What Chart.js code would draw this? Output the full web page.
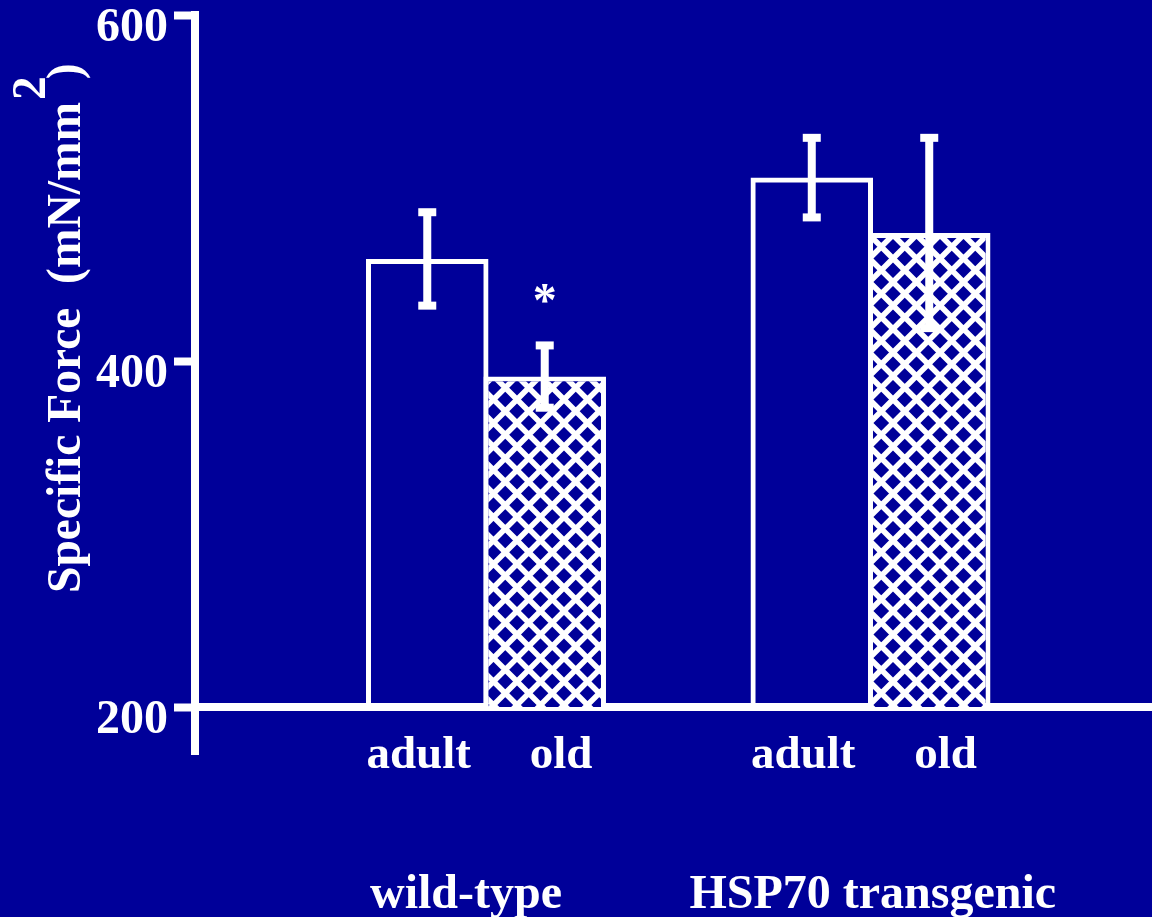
<!DOCTYPE html>
<html><head><meta charset="utf-8">
<script src="https://cdn.jsdelivr.net/npm/chart.js@4"></script>
<style>html,body{margin:0;padding:0;background:#000099;} #wrap{width:1152px;height:917px;position:relative;}</style>
</head><body><div id="wrap"><canvas id="c"></canvas></div>
<script>
// ---- data ----
const groups = ['wild-type', 'HSP70 transgenic'];
const groupPos = [1, 2];
const ages = ['adult', 'old'];
const adultMean = [459, 506];
const adultErr = [27, 23];
const oldMean = [391, 474];
const oldErr = [18, 55];
const oldMarks = ['*', ''];
const yTicks = [200, 400, 600];
const yTitle = 'Specific Force  (mN/mm';
const yTitleSup = '2';
const yTitleEnd = ')';

// ---- styling ----
const BG = '#000099';
const FG = '#ffffff';
const FONT = '"Liberation Serif", "Times New Roman", Times, serif';
const X_MIN = 0.2432, X_MAX = 2.7321;
const SUB_OFFSETS = [-0.175, 0.195];
const GROUP_LABEL_OFFSETS = [-0.052, 0.006];
const subTickValues = groupPos.flatMap(g => SUB_OFFSETS.map(o => g + o));
const subLabels = groupPos.flatMap(() => ages);
const groupTickValues = groupPos.map((g, i) => g + GROUP_LABEL_OFFSETS[i]);

function makePattern() {
  const T = 47, S = 23.5;
  const c = document.createElement('canvas');
  c.width = T; c.height = T;
  const g = c.getContext('2d');
  g.fillStyle = BG; g.fillRect(0, 0, T, T);
  g.strokeStyle = FG; g.lineWidth = 5.5;
  g.beginPath();
  for (let k = -3; k <= 3; k++) {
    g.moveTo(-10, -10 + k * S); g.lineTo(T + 10, T + 10 + k * S);
  }
  for (let m = -1; m <= 5; m++) {
    g.moveTo(-10, m * S + 10); g.lineTo(T + 10, m * S - T - 10);
  }
  g.stroke();
  return g.createPattern(c, 'repeat');
}

const bgPlugin = {
  id: 'bg',
  beforeDraw(chart) {
    const ctx = chart.ctx;
    ctx.save(); ctx.fillStyle = BG; ctx.fillRect(0, 0, chart.width, chart.height); ctx.restore();
  }
};

const errPlugin = {
  id: 'err',
  afterDatasetsDraw(chart) {
    const ctx = chart.ctx, y = chart.scales.y;
    ctx.save();
    ctx.fillStyle = FG;
    chart.data.datasets.forEach((ds, di) => {
      const meta = chart.getDatasetMeta(di);
      meta.data.forEach((bar, i) => {
        const m = ds.data[i].y, e = ds.errors[i];
        const cx = bar.x;
        const top = y.getPixelForValue(m + e), bot = y.getPixelForValue(m - e);
        ctx.fillRect(cx - 4, top, 8, bot - top);
        ctx.fillRect(cx - 9, top - 4, 18, 8);
        ctx.fillRect(cx - 9, bot - 4, 18, 8);
        if (ds.marks && ds.marks[i]) {
          ctx.font = 'bold 48px ' + FONT;
          ctx.textAlign = 'center'; ctx.textBaseline = 'alphabetic';
          ctx.fillText(ds.marks[i], cx, top - 29);
        }
      });
    });
    ctx.restore();
  }
};

const axisPlugin = {
  id: 'axisExt',
  afterDraw(chart) {
    const ctx = chart.ctx, a = chart.chartArea;
    ctx.save();
    ctx.fillStyle = FG;
    ctx.fillRect(a.left - 4, a.top - 4, 8, a.bottom - a.top + 52);
    // y-axis title with superscript
    ctx.translate(80, 593);
    ctx.rotate(-Math.PI / 2);
    ctx.font = 'bold 47.5px ' + FONT;
    ctx.textAlign = 'left'; ctx.textBaseline = 'alphabetic';
    ctx.fillText(yTitle, 0, 0);
    const w = ctx.measureText(yTitle).width;
    ctx.fillText(yTitleSup, w + 2, -35);
    const w2 = ctx.measureText(yTitleSup).width;
    ctx.fillText(yTitleEnd, w + w2 - 1, 0);
    ctx.restore();
  }
};

const pattern = makePattern();
const tickFont = { family: FONT, size: 48, weight: 'bold' };
const subFont = { family: FONT, size: 47, weight: 'bold' };

new Chart(document.getElementById('c'), {
  type: 'bar',
  data: {
    datasets: [
      { label: ages[0], data: groupPos.map((g, i) => ({ x: g, y: adultMean[i] })), errors: adultErr,
        backgroundColor: 'rgba(0,0,0,0)', borderColor: FG, borderWidth: 5, xAxisID: 'x',
        categoryPercentage: 0.611, barPercentage: 1.043 },
      { label: ages[1], data: groupPos.map((g, i) => ({ x: g, y: oldMean[i] })), errors: oldErr, marks: oldMarks,
        backgroundColor: pattern, borderColor: FG, borderWidth: 5, xAxisID: 'x',
        categoryPercentage: 0.611, barPercentage: 1.043 }
    ]
  },
  options: {
    responsive: true, maintainAspectRatio: false, animation: false,
    layout: { padding: { top: 15, right: 0, left: 0, bottom: 0 } },
    plugins: { legend: { display: false }, tooltip: { enabled: false } },
    scales: {
      x: {
        type: 'linear', position: 'bottom', weight: 2, offset: false, min: X_MIN, max: X_MAX,
        grid: { display: false }, border: { display: false },
        afterBuildTicks: s => { s.ticks = groupTickValues.map(v => ({ value: v })); },
        afterFit: s => { s.height = 60; s.paddingLeft = 0; s.paddingRight = 0; },
        ticks: { autoSkip: false, maxRotation: 0, padding: 2, color: FG, font: tickFont,
          callback: (v, i) => groups[i] }
      },
      xsub: {
        type: 'linear', position: 'bottom', weight: 1, offset: false, min: X_MIN, max: X_MAX,
        grid: { display: false }, border: { display: true, color: FG, width: 8 },
        afterBuildTicks: s => { s.ticks = subTickValues.map(v => ({ value: v })); },
        afterFit: s => { s.height = 150; s.paddingLeft = 0; s.paddingRight = 0; },
        ticks: { autoSkip: false, maxRotation: 0, padding: 13, color: FG, font: subFont,
          callback: (v, i) => subLabels[i] }
      },
      y: {
        type: 'linear', position: 'left', min: 200, max: 600,
        afterBuildTicks: s => { s.ticks = yTicks.map(v => ({ value: v })); },
        afterFit: s => { s.width = 195; s.paddingTop = 0; s.paddingBottom = 0; },
        grid: { drawOnChartArea: false, drawTicks: true, tickLength: 21, tickWidth: 8, tickColor: FG, color: FG },
        border: { display: true, color: FG, width: 8 },
        ticks: { color: FG, padding: 6, labelOffset: 13.5, font: tickFont, callback: v => String(v) }
      }
    }
  },
  plugins: [bgPlugin, errPlugin, axisPlugin]
});
</script>
</body></html>
